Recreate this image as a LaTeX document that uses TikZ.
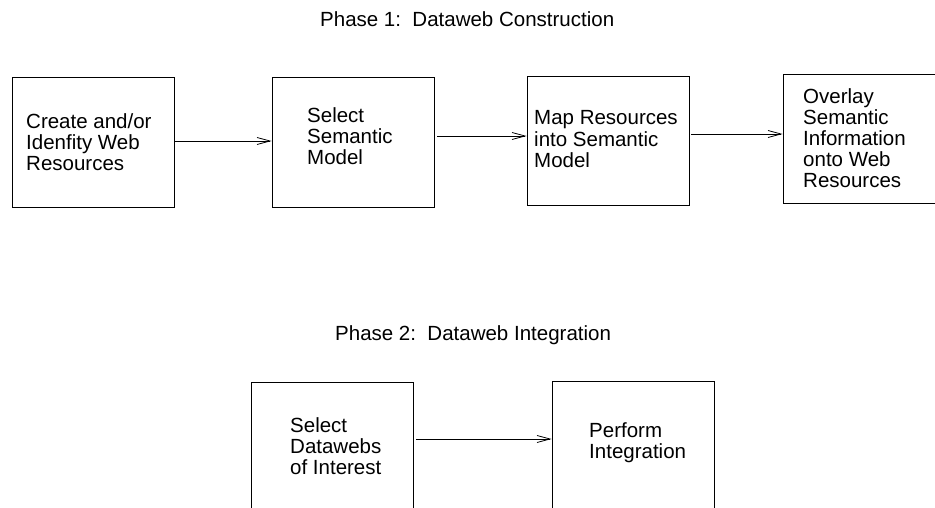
\documentclass[tikz,border=0pt]{standalone}
\usepackage{fontspec}
\setmainfont{Liberation Sans}
\usetikzlibrary{arrows.meta}
\newcommand{\blk}[1]{\begin{tabular}[t]{@{}l@{}}#1\end{tabular}}
\tikzset{
  every node/.style={font=\fontsize{20.5}{20.7}\selectfont, inner sep=0pt},
  stagebox/.style={draw, line width=0.9pt, minimum width=162pt, minimum height=130pt},
  label text/.style={anchor=base west},
  flow/.style={line width=0.8pt, -{Straight Barb[length=13pt,width=7pt,line width=0.8pt]}}
}
\begin{document}
\begin{tikzpicture}[x=1pt,y=-1pt]
\frenchspacing
\clip (0,0) rectangle (935,508);

% Phase 1
\node[label text] (p1) at (320,26.7) {Phase 1:\ \ Dataweb Construction};

\node[stagebox] (b1) at (93,142) {};
\node[stagebox] (b2) at (353,142) {};
\node[stagebox, minimum height=129pt] (b3) at (608,140.5) {};
\node[stagebox, minimum height=129pt] (b4) at (864,138.5) {};

\node[label text] (t1) at (26,128.3) {\blk{Create and/or\\Idenfity Web\\Resources}};
\node[label text] (t2) at (307,122.7) {\blk{Select\\Semantic\\Model}};
\node[label text] (t3) at (534,125) {\blk{Map Resources\\into Semantic\\Model}};
\node[label text] (t4) at (803,103.3) {\blk{Overlay\\Semantic\\Information\\onto Web\\Resources}};

\draw[flow] (b1.east |- 0,141) -- (b2.west |- 0,141);
\draw[flow] ([xshift=3pt]b2.east |- 0,136) -- (b3.west |- 0,136);
\draw[flow] ([xshift=2pt]b3.east |- 0,134) -- (b4.west |- 0,134);

% Phase 2
\node[label text] (p2) at (335,340.7) {Phase 2:\ \ Dataweb Integration};

\node[stagebox] (b5) at (332,447) {};
\node[stagebox] (b6) at (633,446) {};

\node[label text] (t5) at (290,432.7) {\blk{Select\\Datawebs\\of Interest}};
\node[label text] (t6) at (589,437.3) {\blk{Perform\\Integration}};

\draw[flow] ([xshift=3pt]b5.east |- 0,439) -- (b6.west |- 0,439);
\end{tikzpicture}
\end{document}
